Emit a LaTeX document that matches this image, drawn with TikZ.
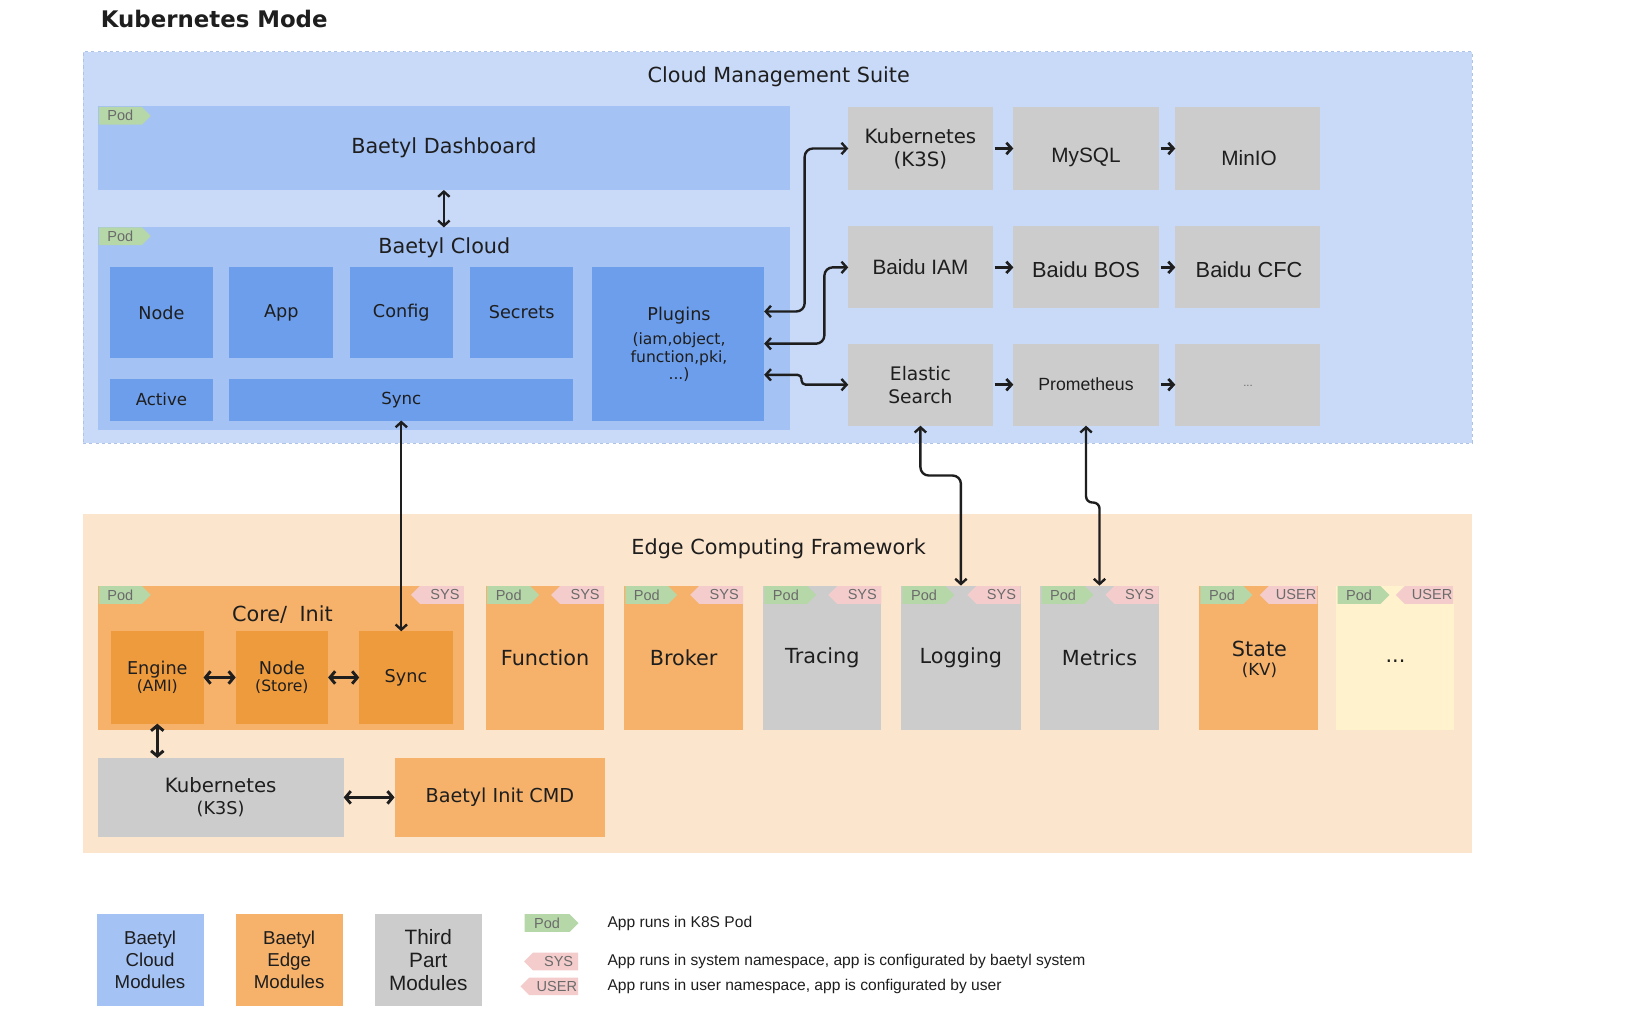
\documentclass[tikz,border=0pt]{standalone}
\usepackage{fontspec}
\setmainfont{DejaVu Sans}
\newfontfamily\arialf{Liberation Sans}
\usetikzlibrary{arrows.meta,shapes.symbols,calc}

\definecolor{cloudbg}{HTML}{C9DAF8}
\definecolor{dashc}{HTML}{AFC3E6}
\definecolor{blueA}{HTML}{A4C2F4}
\definecolor{blueB}{HTML}{6D9EEB}
\definecolor{edgebg}{HTML}{FCE5CD}
\definecolor{orangeA}{HTML}{F6B26B}
\definecolor{orangeB}{HTML}{EE9B3E}
\definecolor{grayA}{HTML}{CCCCCC}
\definecolor{cream}{HTML}{FFF2CC}
\definecolor{podgreen}{HTML}{B6D7A8}
\definecolor{syspink}{HTML}{F4CCCC}
\definecolor{tagtext}{HTML}{6B6B6B}
\definecolor{ink}{HTML}{1E1E1E}

\newcommand\fsz[2]{\fontsize{#1}{#2}\selectfont}

\tikzset{
  blk/.style={rectangle, inner sep=0pt, outer sep=0pt, anchor=north west, align=center, text=ink},
  podtag/.style={signal, signal to=east, fill=podgreen, minimum width=50pt, minimum height=17pt,
     inner sep=1pt, anchor=west, text=tagtext, font=\arialf\fsz{14}{14}},
  systag/.style={signal, signal to=west, fill=syspink, minimum width=51pt, minimum height=17pt,
     inner sep=1pt, anchor=east, text=tagtext, font=\arialf\fsz{14}{14}},
  conn/.style={line width=2.3pt, draw=ink, {Straight Barb[length=5pt,width=11pt]}-{Straight Barb[length=5pt,width=11pt]}},
  bconn/.style={line width=2.8pt, draw=ink, {Straight Barb[length=5pt,width=12pt]}-{Straight Barb[length=5pt,width=12pt]}},
  one/.style={line width=2.6pt, draw=ink, -{Straight Barb[length=5pt,width=11pt]}},
  txt/.style={text=ink, align=center, inner sep=0pt},
}

\begin{document}
\begin{tikzpicture}[x=1pt,y=-1pt]
\useasboundingbox[fill=white] (0,0) rectangle (1568,990);

\node[txt, font=\bfseries\fsz{22}{24}, anchor=west] (title) at (97,18) {Kubernetes Mode};

% ---------------- Cloud Management Suite ----------------
\node[blk, fill=cloudbg, draw=dashc, dashed, line width=1pt, minimum width=1338pt, minimum height=377pt] (cms) at (80,50) {};
\node[txt, font=\fsz{20}{24}] (cmst) at (750,74) {Cloud Management Suite};

\node[blk, fill=blueA, minimum width=667pt, minimum height=81pt, font=\fsz{20}{24}] (dash) at (94,102) {Baetyl Dashboard};
\node[podtag] (tagdash) at (95,111.5) {Pod\hspace{6pt}};

\node[blk, fill=blueA, minimum width=667pt, minimum height=195pt] (cloud) at (94,219) {};
\node[txt, font=\fsz{20}{24}] (cloudt) at (428,239) {Baetyl Cloud};
\node[podtag] (tagcloud) at (95,227.5) {Pod\hspace{6pt}};

\node[blk, fill=blueB, minimum width=99pt, minimum height=88pt, font=\fsz{17}{20}] (cnode) at (106,257) {Node};
\node[blk, fill=blueB, minimum width=100pt, minimum height=88pt, font=\fsz{17}{20}] (capp) at (221,257) {App};
\node[blk, fill=blueB, minimum width=99pt, minimum height=88pt, font=\fsz{17}{20}] (cconfig) at (337,257) {Config};
\node[blk, fill=blueB, minimum width=99pt, minimum height=88pt, font=\fsz{17}{20}] (csecrets) at (453,257) {Secrets};
\node[blk, fill=blueB, minimum width=166pt, minimum height=148pt] (plugins) at (570,257) {};
\node[txt, font=\fsz{17}{20}] (plugt) at (654,304) {Plugins};
\node[txt, font=\fsz{15}{17}] (plugs) at (654,344) {(iam,object,\\function,pki,\\...)};
\node[blk, fill=blueB, minimum width=99pt, minimum height=40pt, font=\fsz{16}{20}] (cactive) at (106,365) {Active};
\node[blk, fill=blueB, minimum width=331pt, minimum height=40pt, font=\fsz{16}{20}] (csync) at (221,365) {Sync};

% right side third-party boxes
\node[blk, fill=grayA, minimum width=139pt, minimum height=80pt, font=\fsz{19}{22}] (k8s) at (817,103) {Kubernetes\\(K3S)};
\node[blk, fill=grayA, minimum width=140pt, minimum height=80pt] (mysql) at (976,103) {};
\node[txt, font=\arialf\fsz{20}{22}] (mysqlt) at (1046,152) {MySQL};
\node[blk, fill=grayA, minimum width=139pt, minimum height=80pt] (minio) at (1132,103) {};
\node[txt, font=\arialf\fsz{20}{22}] (miniot) at (1203,152) {MinIO};

\node[blk, fill=grayA, minimum width=139pt, minimum height=79pt, font=\arialf\fsz{20}{22}] (iam) at (817,218) {Baidu IAM};
\node[blk, fill=grayA, minimum width=140pt, minimum height=79pt] (bos) at (976,218) {};
\node[txt, font=\arialf\fsz{21}{22}] (bost) at (1046,260) {Baidu BOS};
\node[blk, fill=grayA, minimum width=139pt, minimum height=79pt] (cfc) at (1132,218) {};
\node[txt, font=\arialf\fsz{21}{22}] (cfct) at (1203,260) {Baidu CFC};

\node[blk, fill=grayA, minimum width=139pt, minimum height=79pt, font=\fsz{18}{22}] (es) at (817,331) {Elastic\\Search};
\node[blk, fill=grayA, minimum width=140pt, minimum height=79pt, font=\arialf\fsz{17}{20}] (prom) at (976,331) {Prometheus};
\node[blk, fill=grayA, minimum width=139pt, minimum height=79pt] (more) at (1132,331) {};
\node[txt, font=\arialf\fsz{11}{12}, text=tagtext] (moret) at (1202,372) {...};

% ---------------- Edge Computing Framework ----------------
\node[blk, fill=edgebg, minimum width=1338pt, minimum height=327pt] (edge) at (80,495) {};
\node[txt, font=\fsz{20}{24}] (edget) at (750,529) {Edge Computing Framework};

\node[blk, fill=orangeA, minimum width=353pt, minimum height=139pt] (core) at (94,564) {};
\node[txt, font=\fsz{20}{24}] (coret) at (272,592) {Core/\hspace{0.6em}Init};
\node[podtag] (tagcore) at (95,573) {Pod\hspace{6pt}};
\node[systag] (syscore) at (447,573) {\hspace{6pt}SYS};

\node[blk, fill=orangeB, minimum width=89pt, minimum height=89pt, font=\fsz{17}{17}] (engine) at (107,608) {Engine\\[-1pt]{\fsz{15}{15}(AMI)}};
\node[blk, fill=orangeB, minimum width=89pt, minimum height=89pt, font=\fsz{17}{17}] (enode) at (227,608) {Node\\[-1pt]{\fsz{15}{15}(Store)}};
\node[blk, fill=orangeB, minimum width=90pt, minimum height=89pt, font=\fsz{17}{20}] (esync) at (346,608) {Sync};

\node[blk, fill=orangeA, minimum width=114pt, minimum height=139pt, font=\fsz{20}{24}] (func) at (468,564) {Function};
\node[blk, fill=orangeA, minimum width=115pt, minimum height=139pt, font=\fsz{20}{24}] (broker) at (601,564) {Broker};
\node[blk, fill=grayA, minimum width=114pt, minimum height=139pt, font=\fsz{20}{24}] (tracing) at (735,564) {Tracing};
\node[blk, fill=grayA, minimum width=115pt, minimum height=139pt, font=\fsz{20}{24}] (logging) at (868,564) {Logging};
\node[blk, fill=grayA, minimum width=114pt, minimum height=139pt, font=\fsz{20}{24}] (metrics) at (1002,564) {Metrics};
\node[blk, fill=orangeA, minimum width=114pt, minimum height=139pt] (state) at (1155,564) {};
\node[txt, font=\fsz{20}{20}] (statet) at (1213,635) {State\\[-2pt]{\fsz{16}{16}(KV)}};
\node[blk, fill=cream, minimum width=113pt, minimum height=139pt] (dots) at (1287,564) {};
\node[txt, font=\fsz{20}{20}] (dotst) at (1344,637) {...};

\foreach \n in {func, broker, tracing, logging, metrics}{
  \node[podtag] (tag\n) at ($(\n.north west)+(1,9)$) {Pod\hspace{6pt}};
  \node[systag] (sys\n) at ($(\n.north east)+(0,9)$) {\hspace{6pt}SYS};
}
\foreach \n in {state, dots}{
  \node[podtag] (tag\n) at ($(\n.north west)+(1,9)$) {Pod\hspace{6pt}};
  \node[systag] (usr\n) at ($(\n.north east)+(0,9)$) {\hspace{6pt}USER};
}

\node[blk, fill=grayA, minimum width=237pt, minimum height=76pt, font=\fsz{19}{21}] (k8sl) at (94,730) {Kubernetes\\{\fsz{17}{21}(K3S)}};
\node[blk, fill=orangeA, minimum width=203pt, minimum height=76pt, font=\fsz{18.5}{22}] (initcmd) at (380,730) {Baetyl Init CMD};

% ---------------- connectors ----------------
\draw[conn] (dash.south) -- (cloud.north);
\draw[conn] (csync.south) -- (csync.south |- esync.north);
\draw[conn, rounded corners=8pt] ($(plugins.north east)+(0,43)$) -| ($(k8s.west)+(-42,0)$) -- (k8s.west);
\draw[conn, rounded corners=8pt] (plugins.east) -| ($(iam.west)+(-23,0)$) -- (iam.west);
\draw[conn, rounded corners=4pt] ($(plugins.south east)+(0,-44)$) -- ++(36,0) |- (es.west);
\draw[conn, rounded corners=8pt] (es.south) -- ++(0,48) -| (logging.north);
\draw[conn, rounded corners=6pt] (prom.south) -- ++(0,74) -| (metrics.north);

\foreach \a/\b in {k8s/mysql, mysql/minio, iam/bos, bos/cfc, es/prom, prom/more}{
  \draw[one] ($(\a.east)+(2,0)$) -- (\b.west);
}

\draw[bconn] (engine.east) -- (enode.west);
\draw[bconn] (enode.east) -- (esync.west);
\draw[bconn] (engine.south) -- (engine.south |- k8sl.north);
\draw[bconn] (k8sl.east) -- (initcmd.west);

% ---------------- legend ----------------
\node[blk, fill=blueA, minimum width=103pt, minimum height=89pt, font=\arialf\fsz{18}{21}] (lblue) at (93,880) {Baetyl\\Cloud\\Modules};
\node[blk, fill=orangeA, minimum width=103pt, minimum height=89pt, font=\arialf\fsz{18}{21}] (lorange) at (227,880) {Baetyl\\Edge\\Modules};
\node[blk, fill=grayA, minimum width=103pt, minimum height=89pt, font=\arialf\fsz{20}{22}] (lgray) at (361,880) {Third\\Part\\Modules};

\node[podtag, minimum width=52pt] (lpod) at (505,889) {Pod\hspace{6pt}};
\node[systag, minimum width=52pt] (lsys) at (557,926) {\hspace{6pt}SYS};
\node[systag, minimum width=52pt] (lusr) at (557,950) {\hspace{6pt}USER};
\node[txt, anchor=west, font=\arialf\fsz{15}{16}] (lpodt) at (585,889) {App runs in K8S Pod};
\node[txt, anchor=west, font=\arialf\fsz{15}{16}] (lsyst) at (585,926) {App runs in system namespace, app is configurated by baetyl system};
\node[txt, anchor=west, font=\arialf\fsz{15}{16}] (lusrt) at (585,950) {App runs in user namespace, app is configurated by user};

\end{tikzpicture}
\end{document}
